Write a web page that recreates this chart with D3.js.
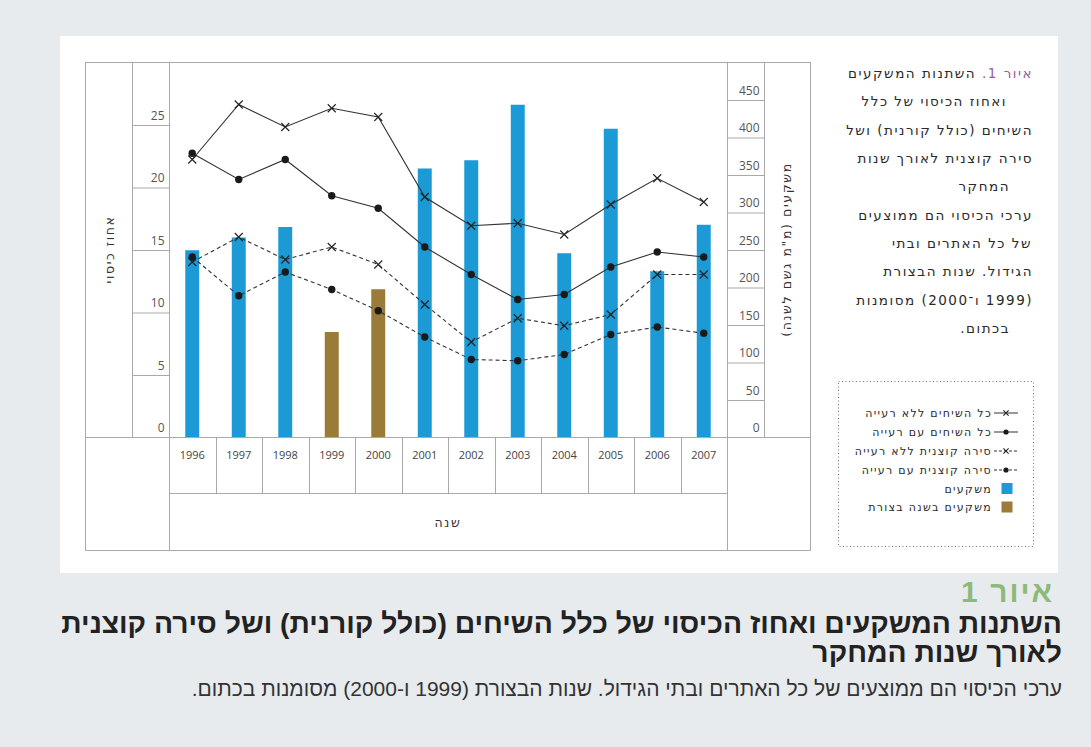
<!DOCTYPE html>
<html>
<head>
<meta charset="utf-8">
<script src="https://cdn.jsdelivr.net/npm/d3@7"></script>
<style>
  body { margin: 0; background: #e8ebee; }
  svg text { font-family: "Open Sans", "DejaVu Sans", sans-serif; }
  .heb { font-family: "DejaVu Sans", sans-serif; direction: rtl; }
  .cap { font-family: "Liberation Sans", "DejaVu Sans", sans-serif; direction: rtl; }
</style>
</head>
<body>
<svg id="chart" width="1091" height="747"></svg>
<script>
const years = [1996, 1997, 1998, 1999, 2000, 2001, 2002, 2003, 2004, 2005, 2006, 2007];
const droughtYears = [1999, 2000];
// rainfall, mm per year (right axis)
const rainfall = [249, 266, 280, 140, 197, 358, 369, 443, 245, 411, 221, 283];
// cover percent (left axis)
const allNoGrazing = [22.2, 26.6, 24.8, 26.3, 25.6, 19.2, 16.9, 17.1, 16.2, 18.6, 20.7, 18.8];
const allGrazing = [22.7, 20.6, 22.2, 19.3, 18.3, 15.2, 13.0, 11.0, 11.4, 13.6, 14.8, 14.4];
const acaciaNoGrazing = [14.0, 16.0, 14.2, 15.2, 13.8, 10.6, 7.6, 9.5, 8.9, 9.8, 13.0, 13.0];
const acaciaGrazing = [14.4, 11.3, 13.2, 11.8, 10.1, 8.0, 6.2, 6.1, 6.6, 8.2, 8.8, 8.3];

const coverTicks = [0, 5, 10, 15, 20, 25];
const rainTicks = [0, 50, 100, 150, 200, 250, 300, 350, 400, 450];

const seriesNames = ["כל השיחים ללא רעייה", "כל השיחים עם רעייה", "סירה קוצנית ללא רעייה", "סירה קוצנית עם רעייה"];
const barNames = ["משקעים", "משקעים בשנה בצורת"];
const coverTitle = "אחוז כיסוי";
const rainTitle = "משקעים (מ\"מ גשם לשנה)";
const yearTitle = "שנה";

const sideText = [
  "השתנות המשקעים",
  "ואחוז הכיסוי של כלל",
  "השיחים (כולל קורנית) ושל",
  "סירה קוצנית לאורך שנות",
  "המחקר",
  "ערכי הכיסוי הם ממוצעים",
  "של כל האתרים ובתי",
  "הגידול. שנות הבצורת",
  "(1999 ו־2000) מסומנות",
  "בכתום."
];
const figLabel = "איור 1";
const titleLines = ["השתנות המשקעים ואחוז הכיסוי של כלל השיחים (כולל קורנית) ושל סירה קוצנית", "לאורך שנות המחקר"];
const subtitle = "ערכי הכיסוי הם ממוצעים של כל האתרים ובתי הגידול. שנות הבצורת (1999 ו-2000) מסומנות בכתום.";

const blue = "#1b9ad6", brown = "#9a7b37", ink = "#333", rule = "#a9a9a9";

const svg = d3.select("#chart");

// white panel
svg.append("rect").attr("x", 60).attr("y", 36).attr("width", 998).attr("height", 537).attr("fill", "#fff");

const plotLeft = 169, plotRight = 727, plotTop = 62, plotBottom = 437;
const x = d3.scaleBand().domain(years).range([plotLeft, plotRight]);
const yL = d3.scaleLinear().domain([0, 30]).range([plotBottom, plotTop]);
const yR = d3.scaleLinear().domain([0, 500]).range([plotBottom, plotTop]);
const cx = d => x(d) + x.bandwidth() / 2;

// table frame
const frame = svg.append("g").attr("stroke", rule).attr("stroke-width", 1).attr("fill", "none");
const hl = (x1, x2, y) => frame.append("line").attr("x1", x1).attr("x2", x2).attr("y1", y).attr("y2", y);
const vl = (xx, y1, y2) => frame.append("line").attr("x1", xx).attr("x2", xx).attr("y1", y1).attr("y2", y2);
frame.append("rect").attr("x", 85.5).attr("y", 62.5).attr("width", 725).attr("height", 488);
hl(85, 810, plotBottom + 0.5);
hl(plotLeft, plotRight, 493.5);
vl(132.5, plotTop, plotBottom);
vl(plotLeft + 0.5, plotTop, 550);
vl(plotRight + 0.5, plotTop, 550);
vl(764.5, plotTop, plotBottom);
years.slice(1).forEach(yr => vl(Math.round(x(yr)) + 0.5, plotBottom, 493));

// left axis
const axL = svg.append("g").attr("transform", "translate(132.5,0.5)")
  .call(d3.axisRight(yL).tickValues(coverTicks).tickSize(37).tickFormat(d3.format("d")));
axL.select(".domain").remove();
axL.selectAll("line").attr("stroke", rule);
axL.selectAll(".tick").filter(d => d === 0).select("line").remove();
axL.selectAll("text").attr("x", 32).attr("dy", -6).attr("text-anchor", "end")
  .attr("fill", "#555").style("font-size", "12px");

// right axis
const axR = svg.append("g").attr("transform", "translate(727.5,0.5)")
  .call(d3.axisRight(yR).tickValues(rainTicks).tickSize(37).tickFormat(d3.format("d")));
axR.select(".domain").remove();
axR.selectAll("line").attr("stroke", rule);
axR.selectAll(".tick").filter(d => d === 0).select("line").remove();
axR.selectAll("text").attr("x", 32).attr("dy", -6).attr("text-anchor", "end")
  .attr("fill", "#555").style("font-size", "12px");

// year labels
svg.append("g").selectAll("text").data(years).join("text")
  .attr("x", d => cx(d)).attr("y", 459).attr("text-anchor", "middle")
  .attr("fill", "#444").style("font-size", "11px").text(d => d);

// axis titles
svg.append("text").attr("class", "heb").attr("transform", "translate(114,249.5) rotate(-90)")
  .attr("text-anchor", "middle").attr("fill", ink).style("font-size", "12.5px")
  .style("letter-spacing", "1.6px").text(coverTitle);
svg.append("text").attr("class", "heb").attr("transform", "translate(791,249.5) rotate(-90)")
  .attr("text-anchor", "middle").attr("fill", ink).style("font-size", "12.5px")
  .style("letter-spacing", "1.6px").text(rainTitle);
svg.append("text").attr("class", "heb").attr("x", (plotLeft + plotRight) / 2).attr("y", 527)
  .attr("text-anchor", "middle").attr("fill", ink).style("font-size", "12.5px")
  .style("letter-spacing", "1.6px").text(yearTitle);

// bars
const bw = x.bandwidth() * 0.3;
svg.append("g").selectAll("rect").data(years).join("rect")
  .attr("x", d => cx(d) - bw / 2).attr("width", bw)
  .attr("y", (d, i) => yR(rainfall[i])).attr("height", (d, i) => plotBottom - yR(rainfall[i]))
  .attr("fill", d => droughtYears.includes(d) ? brown : blue);

// lines
const series = [
  { values: allNoGrazing, dash: null, mark: "x" },
  { values: allGrazing, dash: null, mark: "dot" },
  { values: acaciaNoGrazing, dash: "4,3", mark: "x" },
  { values: acaciaGrazing, dash: "4,3", mark: "dot" }
];
const line = d3.line().x((v, i) => cx(years[i])).y(v => yL(v));

function drawMark(g, mark, px, py, s) {
  if (mark === "dot") {
    g.append("circle").attr("cx", px).attr("cy", py).attr("r", s).attr("fill", "#1a1a1a");
  } else {
    g.append("path").attr("d", `M${px - s},${py - s}L${px + s},${py + s}M${px - s},${py + s}L${px + s},${py - s}`)
      .attr("stroke", "#222").attr("stroke-width", 1.1).attr("fill", "none");
  }
}

series.forEach(s => {
  const g = svg.append("g");
  g.append("path").attr("d", line(s.values)).attr("fill", "none")
    .attr("stroke", ink).attr("stroke-width", 1.1).attr("stroke-dasharray", s.dash);
  s.values.forEach((v, i) => drawMark(g, s.mark, cx(years[i]), yL(v), s.mark === "dot" ? 3.7 : 4));
});

// side text
const sideRight = [1033, 1007, 1033, 1033, 1010, 1033, 1032, 1033, 1033, 1010];
sideText.forEach((t, i) => {
  const tx = svg.append("text").attr("class", "heb").attr("x", sideRight[i]).attr("y", 78 + i * 28.33)
    .attr("text-anchor", "start").attr("fill", "#2a2a2a").style("font-size", "13.5px")
    .style("letter-spacing", "1.5px");
  if (i === 0) {
    tx.append("tspan").attr("fill", "#9b5a9b").text(figLabel + ". ");
  }
  tx.append("tspan").text(t);
});

// legend
svg.append("rect").attr("x", 838.5).attr("y", 381.5).attr("width", 195).attr("height", 165)
  .attr("fill", "none").attr("stroke", "#777").attr("stroke-dasharray", "1,2.5");
const legY = [413, 432, 451, 470, 488.5, 507];
const leg = svg.append("g");
series.forEach((s, i) => {
  leg.append("line").attr("x1", 994).attr("x2", 1018).attr("y1", legY[i]).attr("y2", legY[i])
    .attr("stroke", ink).attr("stroke-width", 1).attr("stroke-dasharray", s.dash ? "3,2" : null);
  drawMark(leg, s.mark, 1006, legY[i], 2.6);
});
seriesNames.concat(barNames).forEach((n, i) => {
  leg.append("text").attr("class", "heb").attr("x", 992).attr("y", legY[i] + 4)
    .attr("text-anchor", "start").attr("fill", "#2a2a2a").style("font-size", "11px")
    .style("letter-spacing", "1.3px").text(n);
});
[blue, brown].forEach((c, i) => {
  leg.append("rect").attr("x", 1001.5).attr("y", legY[4 + i] - 5.5).attr("width", 11).attr("height", 11).attr("fill", c);
});

// caption
svg.append("text").attr("class", "cap").attr("x", 1054).attr("y", 602).attr("text-anchor", "start")
  .attr("fill", "#8dba78").style("font-size", "30px").style("font-weight", "bold")
  .style("letter-spacing", "2px").text(figLabel);
titleLines.forEach((t, i) => {
  svg.append("text").attr("class", "cap").attr("x", 1062).attr("y", 633 + i * 29).attr("text-anchor", "start")
    .attr("fill", "#222").style("font-size", "28.3px").style("font-weight", "bold").text(t);
});
svg.append("text").attr("class", "cap").attr("x", 1062).attr("y", 696).attr("text-anchor", "start")
  .attr("fill", "#333").style("font-size", "21px").text(subtitle);
</script>
</body>
</html>
